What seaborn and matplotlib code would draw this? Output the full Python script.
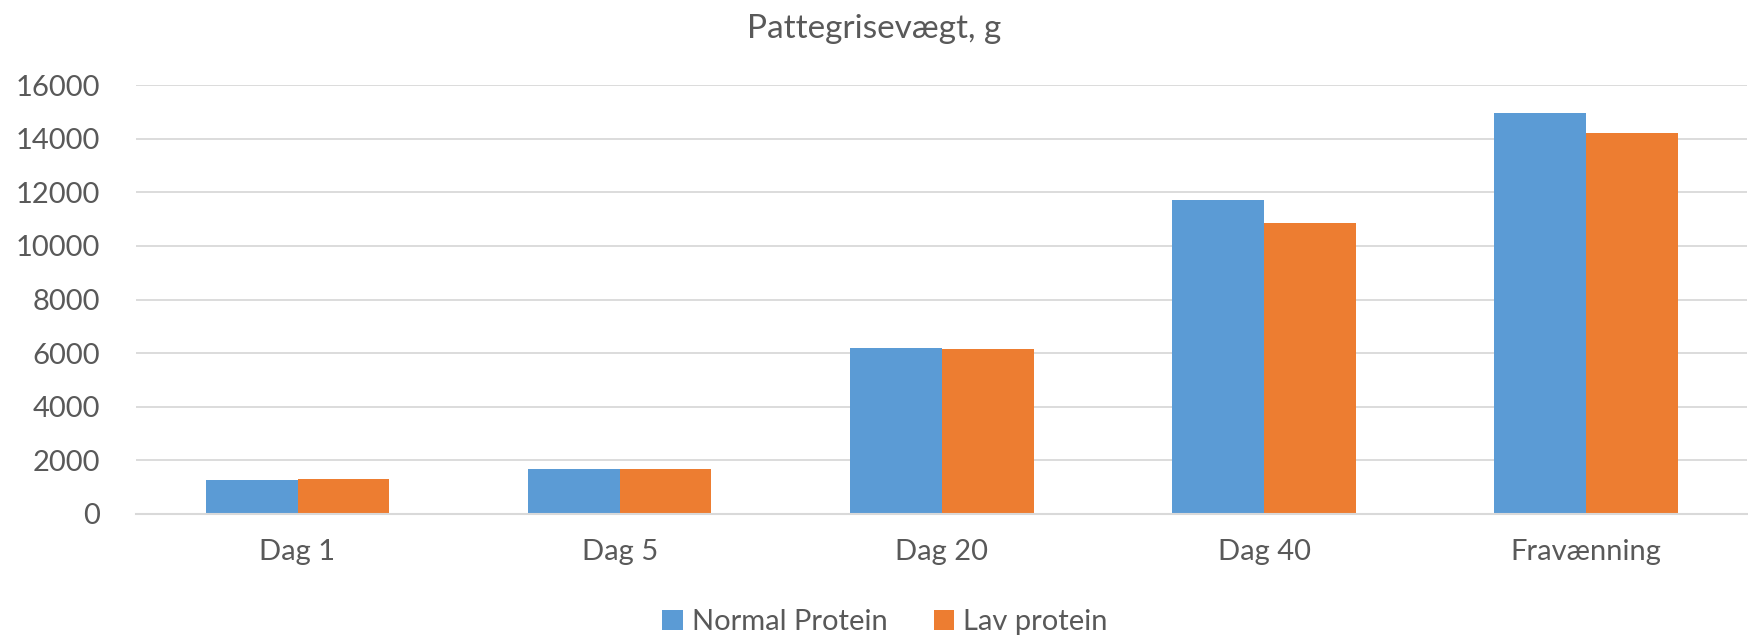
import matplotlib
matplotlib.use("Agg")
import matplotlib.pyplot as plt
import seaborn as sns
import pandas as pd

categories = ["Dag 1", "Dag 5", "Dag 20", "Dag 40", "Fravænning"]
normal_protein = [1275, 1690, 6185, 11730, 14975]
lav_protein = [1315, 1680, 6165, 10870, 14215]
series_names = ["Normal Protein", "Lav protein"]
yticks = [0, 2000, 4000, 6000, 8000, 10000, 12000, 14000, 16000]

df = pd.DataFrame({
    "Kategori": categories * 2,
    "Vægt": normal_protein + lav_protein,
    "Serie": [series_names[0]] * len(categories) + [series_names[1]] * len(categories),
})

sns.set_style("white")
plt.rcParams["font.family"] = ["Lato", "DejaVu Sans"]
txt = "#595959"

fig = plt.figure(figsize=(17.49, 6.40), dpi=100)
ax = fig.add_axes([0.078, 0.197, 0.921, 0.67])

sns.barplot(data=df, x="Kategori", y="Vægt", hue="Serie", order=categories,
            hue_order=series_names, palette=["#5B9BD5", "#ED7D31"],
            width=0.57, gap=0, linewidth=0, saturation=1, ax=ax, legend=True)

ax.set_ylim(0, 16000)
ax.set_yticks(yticks)
ax.set_yticklabels([str(v) for v in yticks])
ax.yaxis.grid(True, color="#d9d9d9", linewidth=1.3)
ax.set_axisbelow(True)
for s in ["top", "right", "left"]:
    ax.spines[s].set_visible(False)
ax.spines["bottom"].set_color("#d9d9d9")
ax.spines["bottom"].set_linewidth(1.5)
ax.tick_params(axis="both", length=0, labelsize=21, labelcolor=txt)
ax.tick_params(axis="x", pad=18)
ax.tick_params(axis="y", pad=26)
ax.set_xlabel("")
ax.set_ylabel("")
ax.set_xlim(-0.5, 4.5)

fig.suptitle("Pattegrisevægt, g", y=0.978, fontsize=24, color=txt)

h, l = ax.get_legend_handles_labels()
ax.legend_.remove()
fig.legend(h, l, loc="center", bbox_to_anchor=(0.506, 0.028), ncol=2, frameon=False,
           fontsize=21, labelcolor=txt, handlelength=0.7, handleheight=0.7,
           handletextpad=0.3, columnspacing=1.6)

fig.savefig("out.png", dpi=100)
